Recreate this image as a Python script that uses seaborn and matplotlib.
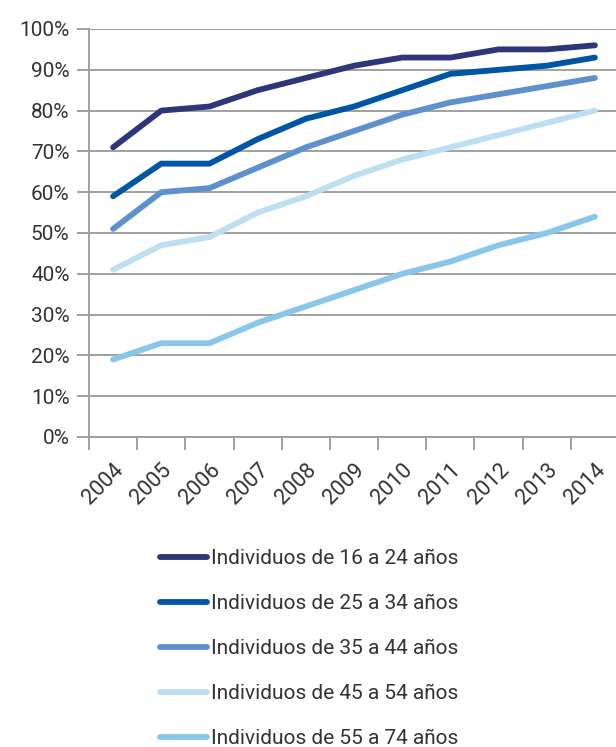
import matplotlib
matplotlib.use("Agg")
import matplotlib.pyplot as plt
import seaborn as sns
import pandas as pd
from matplotlib.ticker import FuncFormatter, FixedLocator

years = ["2004", "2005", "2006", "2007", "2008", "2009", "2010", "2011", "2012", "2013", "2014"]
series_names = [
    "Individuos de 16 a 24 años",
    "Individuos de 25 a 34 años",
    "Individuos de 35 a 44 años",
    "Individuos de 45 a 54 años",
    "Individuos de 55 a 74 años",
]
v16_24 = [71, 80, 81, 85, 88, 91, 93, 93, 95, 95, 96]
v25_34 = [59, 67, 67, 73, 78, 81, 85, 89, 90, 91, 93]
v35_44 = [51, 60, 61, 66, 71, 75, 79, 82, 84, 86, 88]
v45_54 = [41, 47, 49, 55, 59, 64, 68, 71, 74, 77, 80]
v55_74 = [19, 23, 23, 28, 32, 36, 40, 43, 47, 50, 54]
colors = ["#2E3578", "#0055A5", "#5E90CD", "#BDDFF2", "#88C7E7"]

rows = []
for name, vals in zip(series_names, [v16_24, v25_34, v35_44, v45_54, v55_74]):
    for i, v in enumerate(vals):
        rows.append({"idx": i, "year": years[i], "value": v, "serie": name})
df = pd.DataFrame(rows)

sns.set_theme(style="white")
plt.rcParams["font.family"] = ["Roboto", "DejaVu Sans"]
text_color = "#333333"
grid_color = "#a0a0a0"

fig = plt.figure(figsize=(6.16, 7.47), dpi=100)
ax = fig.add_axes([89 / 616, 1 - 437 / 747, (619 - 89) / 616, (437 - 29) / 747])

sns.lineplot(data=df, x="idx", y="value", hue="serie", hue_order=series_names,
             palette=colors, linewidth=4.2, ax=ax, legend=True,
             solid_capstyle="round")

ax.set_xlim(-0.5, 10.5)
ax.set_ylim(0, 100)
ax.set_yticks(range(0, 101, 10))
ax.yaxis.set_major_formatter(FuncFormatter(lambda v, p: f"{int(v)}%"))
ax.grid(axis="y", color=grid_color, linewidth=1.4)
ax.set_axisbelow(True)

ax.set_xticks(range(len(years)))
ax.set_xticklabels(years, rotation=45, ha="right", rotation_mode="anchor")
ax.xaxis.set_minor_locator(FixedLocator([i - 0.5 for i in range(len(years) + 1)]))
ax.tick_params(axis="x", which="major", length=0, pad=16, labelsize=15.5, labelcolor=text_color)
ax.tick_params(axis="x", which="minor", length=9, width=1.4, color=grid_color, direction="out", bottom=True)
ax.tick_params(axis="y", length=9, width=1.4, color=grid_color, direction="out", left=True,
               labelsize=15, labelcolor=text_color, pad=5)
ax.set_xlabel("")
ax.set_ylabel("")
for s in ["top", "right"]:
    ax.spines[s].set_visible(False)
for s in ["left", "bottom"]:
    ax.spines[s].set_color(grid_color)
    ax.spines[s].set_linewidth(1.4)

handles, labels = ax.get_legend_handles_labels()
ax.get_legend().remove()
leg = fig.legend(handles, labels, loc="upper left", bbox_to_anchor=(152 / 616, 1 - 541 / 747),
                 frameon=False, fontsize=15, handlelength=2.25, handletextpad=0.18,
                 labelspacing=1.25, borderaxespad=0)
for t in leg.get_texts():
    t.set_color(text_color)
for h in leg.get_lines():
    h.set_linewidth(4.2)
    h.set_solid_capstyle("round")

fig.savefig("out.png", dpi=100)
